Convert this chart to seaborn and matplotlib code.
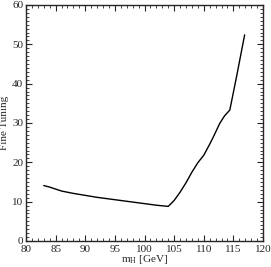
import numpy as np
import pandas as pd
import seaborn as sns
import matplotlib.pyplot as plt
from matplotlib.ticker import MultipleLocator

# Higgs mass [GeV] and fine tuning
m_h = [83, 84, 86, 88, 90, 92, 94, 96, 98, 100, 102, 104, 105, 106, 107,
       108, 109, 110, 111, 111.6, 112.7, 113.5, 114.4, 115.5, 116.9]
fine_tuning = [14.1, 13.7, 12.7, 12.1, 11.6, 11.1, 10.7, 10.3, 9.9, 9.5, 9.1,
               8.8, 10.3, 12.4, 14.8, 17.5, 19.9, 21.8, 24.6, 26.4, 29.9,
               31.8, 33.3, 41.5, 52.4]

sns.set_style("ticks")
plt.rcParams['font.family'] = ['Liberation Serif', 'DejaVu Serif']
plt.rcParams['mathtext.fontset'] = 'custom'
plt.rcParams['mathtext.rm'] = 'Liberation Serif'

df = pd.DataFrame({"mh": m_h, "ft": fine_tuning})

fig = plt.figure(figsize=(2.71, 2.67), dpi=100)
ax = fig.add_axes([26/271, 26/267, 237/271, 236/267])
sns.lineplot(data=df, x="mh", y="ft", color="black", linewidth=1.0, ax=ax, sort=False)

ax.set_xlim(80, 120)
ax.set_ylim(0, 60)
ax.xaxis.set_major_locator(MultipleLocator(5))
ax.xaxis.set_minor_locator(MultipleLocator(1))
ax.yaxis.set_major_locator(MultipleLocator(10))
ax.yaxis.set_minor_locator(MultipleLocator(1))
ax.tick_params(which="both", direction="in", top=True, right=True, labelsize=8)
ax.tick_params(axis="x", pad=3)
ax.tick_params(axis="y", pad=2)
ax.tick_params(which="major", length=4, width=0.8)
ax.tick_params(which="minor", length=2, width=0.6)
for s in ax.spines.values():
    s.set_linewidth(1.0)

ax.set_xlabel(r"m$_{\mathrm{H}}$ [GeV]", fontsize=8, labelpad=-1)
ax.set_ylabel("Fine Tuning", fontsize=8, labelpad=2)

fig.savefig("out.png", dpi=100)
